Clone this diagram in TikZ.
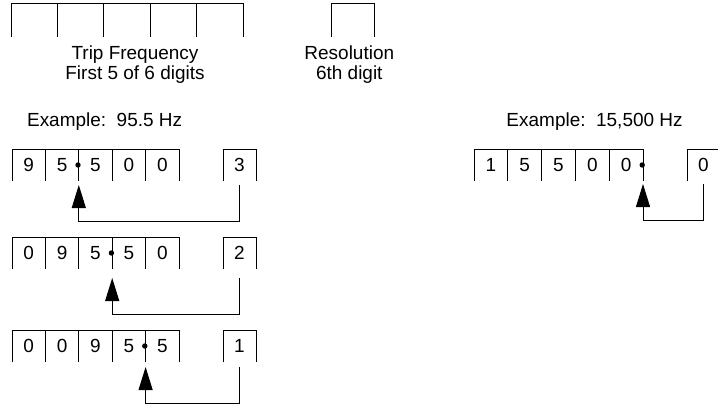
\documentclass[tikz,border=0pt]{standalone}
\usepackage{fontspec}
\setmainfont{Liberation Sans}
\usetikzlibrary{arrows.meta,positioning,calc}

\tikzset{
  every node/.style={font=\fontsize{13.5}{14.2}\selectfont},
  topcell/.style={minimum width=1.16cm, minimum height=0.85cm, inner sep=0pt, outer sep=0pt},
  digit/.style={minimum width=0.835cm, minimum height=0.8cm, inner sep=0pt, outer sep=0pt},
  dot/.style={circle, fill, inner sep=0pt, minimum size=0.135cm},
  arr/.style={-{Triangle[length=0.575cm, width=0.35cm]}},
}

\begin{document}
\begin{tikzpicture}[line width=0.7pt]
\useasboundingbox (0,0) rectangle (17.95,-10.1);

% header
\node[topcell, anchor=north west] (t1) at (0.275,-0.075) {};
\node[topcell, right=0pt of t1] (t2) {};
\node[topcell, right=0pt of t2] (t3) {};
\node[topcell, right=0pt of t3] (t4) {};
\node[topcell, right=0pt of t4] (t5) {};
\node[topcell, minimum width=1.075cm, right=2.2cm of t5] (res) {};
\node[below=0.2cm of t3.south, xshift=0.2cm, align=center, inner sep=0pt] (freq) {Trip Frequency\\First 5 of 6 digits};
\node[below=0.2cm of res.south, xshift=-0.08cm, align=center, inner sep=0pt] (reslbl) {Resolution\\6th digit};

\draw (t1.south west) |- (t5.north east) -- (t5.south east)
  (t2.north west) -- (t2.south west) (t3.north west) -- (t3.south west)
  (t4.north west) -- (t4.south west) (t5.north west) -- (t5.south west);
\draw (res.south west) |- (res.north east) -- (res.south east);

% example 95.5 Hz
\node[anchor=base west, inner sep=0pt] (ex1) at (0.665,-3.16) {Example:\ \ 95.5 Hz};

\node[digit, anchor=north west] (a1) at (0.3,-3.725) {9};
\node[digit, right=0pt of a1] (a2) {5};
\node[digit, right=0pt of a2] (a3) {5};
\node[digit, right=0pt of a3] (a4) {0};
\node[digit, right=0pt of a4] (a5) {0};
\node[digit, minimum width=0.825cm, right=1.1cm of a5] (a6) {3};

\node[digit, below=1.4cm of a1] (b1) {0};
\node[digit, right=0pt of b1] (b2) {9};
\node[digit, right=0pt of b2] (b3) {5};
\node[digit, right=0pt of b3] (b4) {5};
\node[digit, right=0pt of b4] (b5) {0};
\node[digit, minimum width=0.825cm, right=1.1cm of b5] (b6) {2};

\node[digit, below=1.525cm of b1] (c1) {0};
\node[digit, right=0pt of c1] (c2) {0};
\node[digit, right=0pt of c2] (c3) {9};
\node[digit, right=0pt of c3] (c4) {5};
\node[digit, right=0pt of c4] (c5) {5};
\node[digit, minimum width=0.825cm, right=1.1cm of c5] (c6) {1};

\draw (a1.south west) |- (a5.north east) -- (a5.south east)
  (a2.north west) -- (a2.south west) (a3.north west) -- (a3.south west)
  (a4.north west) -- (a4.south west) (a5.north west) -- (a5.south west);
\draw (a6.south west) |- (a6.north east) -- (a6.south east);
\draw (b1.south west) |- (b5.north east) -- (b5.south east)
  (b2.north west) -- (b2.south west) (b3.north west) -- (b3.south west)
  (b4.north west) -- (b4.south west) (b5.north west) -- (b5.south west);
\draw (b6.south west) |- (b6.north east) -- (b6.south east);
\draw (c1.south west) |- (c5.north east) -- (c5.south east)
  (c2.north west) -- (c2.south west) (c3.north west) -- (c3.south west)
  (c4.north west) -- (c4.south west) (c5.north west) -- (c5.south west);
\draw (c6.south west) |- (c6.north east) -- (c6.south east);

\node[dot, xshift=-0.02cm] (adot) at (a3.west) {};
\node[dot, xshift=-0.02cm] (bdot) at (b4.west) {};
\node[dot, xshift=-0.02cm] (cdot) at (c5.west) {};

\draw[arr] ([yshift=-0.1cm]a6.south) -- ++(0,-0.9) -| ([yshift=-0.1cm]a3.south west);
\draw[arr] ([yshift=-0.225cm]b6.south) -- ++(0,-0.9) -| ([yshift=-0.225cm]b4.south west);
\draw[arr] ([yshift=-0.125cm]c6.south) -- ++(0,-0.9) -| ([yshift=-0.125cm]c5.south west);

% example 15,500 Hz
\node[anchor=base west, inner sep=0pt] (ex2) at (12.65,-3.16) {Example:\ \ 15,500 Hz};

\node[digit, minimum width=0.845cm, anchor=north west] (d1) at (11.85,-3.725) {1};
\node[digit, minimum width=0.845cm, right=0pt of d1] (d2) {5};
\node[digit, minimum width=0.845cm, right=0pt of d2] (d3) {5};
\node[digit, minimum width=0.845cm, right=0pt of d3] (d4) {0};
\node[digit, minimum width=0.845cm, right=0pt of d4] (d5) {0};
\node[digit, minimum width=0.825cm, right=1.1cm of d5] (d6) {0};

\draw (d1.south west) |- (d5.north east) -- (d5.south east)
  (d2.north west) -- (d2.south west) (d3.north west) -- (d3.south west)
  (d4.north west) -- (d4.south west) (d5.north west) -- (d5.south west);
\draw (d6.south west) |- (d6.north east) -- (d6.south east);

\node[dot, xshift=-0.02cm] (ddot) at (d5.east) {};

\draw[arr] ([yshift=-0.075cm]d6.south) -- ++(0,-0.9) -| ([yshift=-0.075cm]d5.south east);
\end{tikzpicture}
\end{document}
